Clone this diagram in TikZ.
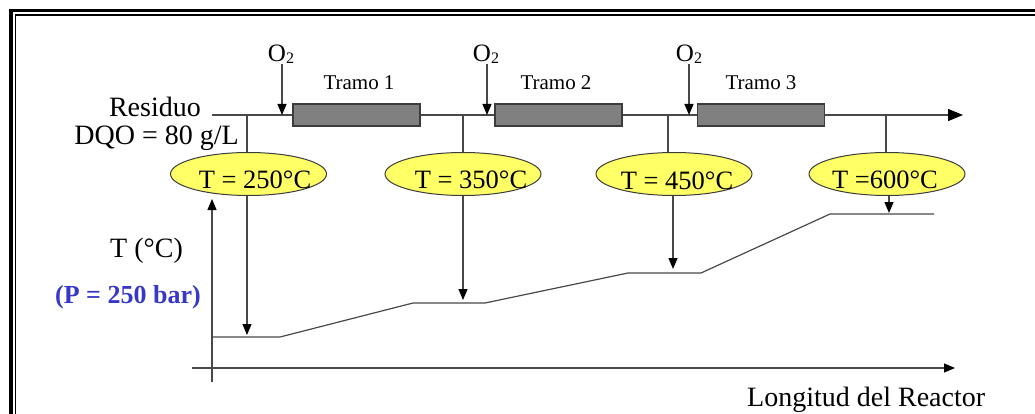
\documentclass[tikz,border=0pt]{standalone}
\usepackage{fontspec}
\setmainfont{Liberation Serif}
\usetikzlibrary{shapes.geometric,arrows.meta}

\definecolor{wirecol}{HTML}{484848}
\definecolor{edgecol}{HTML}{3C3C3C}
\definecolor{bubblefill}{HTML}{FFFF66}
\definecolor{tubefill}{HTML}{808080}
\definecolor{pblue}{HTML}{3838C8}
\newcommand\fs[1]{\fontsize{#1}{#1}\selectfont}

\begin{document}
\begin{tikzpicture}[x=1pt,y=-1pt,
  wire/.style={draw=wirecol, line width=1.2pt},
  feed/.style={wire, -{Triangle[length=11pt,width=9pt,color=black]}},
  flow/.style={wire, -{Triangle[length=15pt,width=12pt,color=black]}},
  tube/.style={rectangle, draw=edgecol, fill=tubefill, line width=1.2pt,
    minimum width=127pt, minimum height=22pt, inner sep=0pt},
  bubble/.style={ellipse, draw=edgecol, fill=bubblefill, line width=1pt,
    minimum width=156pt, minimum height=43pt, inner sep=0pt},
  lbl/.style={font=\fs{28}, inner sep=0pt},
  temp/.style={font=\fs{26.5}, inner sep=0pt, anchor=base},
  tramo/.style={font=\fs{21}, inner sep=0pt, anchor=base},
  oxy/.style={font=\fs{25}, inner sep=0pt, anchor=base},
  frameouter/.style={draw=black, line width=3.4pt},
  frameinner/.style={draw=black, line width=1.6pt}
]
\useasboundingbox (0,0) rectangle (1035,414);
\clip (0,0) rectangle (1035,414);

% double page frame
\draw[frameouter] (10.8,10.8) rectangle (1100,480);
\draw[frameinner] (15.3,15.3) rectangle (1100,480);

% reactor line
\coordinate (in) at (212,115);
\coordinate (out) at (963,115);
\draw[flow] (in) -- (out);

% reactor sections
\node[tube] (b1) at (356.5,115) {};
\node[tube] (b2) at (558.5,115) {};
\node[tube] (b3) at (761,115) {};
\node[tramo] (l1) at (359,90) {Tramo 1};
\node[tramo] (l2) at (556,90) {Tramo 2};
\node[tramo] (l3) at (761,90) {Tramo 3};

% oxygen injections
\node[oxy] (o1) at (281,62) {O\raisebox{-2pt}{\fs{16}2}};
\node[oxy] (o2) at (486,62) {O\raisebox{-2pt}{\fs{16}2}};
\node[oxy] (o3) at (689,62) {O\raisebox{-2pt}{\fs{16}2}};
\coordinate (a1) at (282,115);
\coordinate (a2) at (487,115);
\coordinate (a3) at (689,115);
\draw[feed] (o1.south -| a1) -- (a1);
\draw[feed] (o2.south -| a2) -- (a2);
\draw[feed] (o3.south -| a3) -- (a3);

% feed labels
\node[lbl, anchor=base east] (res) at (201,117) {Residuo};
\node[lbl, anchor=base east] (dqo) at (239,145) {DQO = 80 g/L};

% temperature readings
\node[bubble] (e1) at (248.5,174) {};
\node[bubble] (e2) at (463,174) {};
\node[bubble] (e3) at (674,174) {};
\node[bubble] (e4) at (887,174) {};
\node[temp] (t1) at (255,189) {T = 250°C};
\node[temp] (t2) at (471,189) {T = 350°C};
\node[temp] (t3) at (677,189.5) {T = 450°C};
\node[temp] (t4) at (885,189) {T =600°C};

\coordinate (j1) at (247,115);
\coordinate (j2) at (463,115);
\coordinate (j3) at (668,115);
\coordinate (j4) at (886,115);
\draw[wire] (j1) -- (j1 |- e1.north);
\draw[wire] (j2) -- (j2 |- e2.north);
\draw[wire] (j3) -- (j3 |- e3.north);
\draw[wire] (j4) -- (j4 |- e4.north);

% axes
\coordinate (yo) at (212,382);
\coordinate (ytop) at (212,199);
\coordinate (xo) at (192,368);
\coordinate (xend) at (955,368);
\draw[feed] (yo) -- (ytop);
\draw[feed] (xo) -- (xend);
\node[lbl, anchor=base west] (tc) at (110,257) {T (°C)};
\node[lbl, anchor=base west, font=\fs{26}\bfseries, text=pblue] (pres) at (55,303) {(P = 250 bar)};
\node[lbl, anchor=base west] (len) at (747,406) {Longitud del Reactor};

% temperature profile
\coordinate (p0) at (212,337);
\coordinate (p1) at (280,337);
\coordinate (p2) at (413,303);
\coordinate (p3) at (485,303);
\coordinate (p4) at (628,273);
\coordinate (p5) at (701,273);
\coordinate (p6) at (830,214);
\coordinate (p7) at (934,214);
\draw[wire] (p0) -- (p1) -- (p2) -- (p3) -- (p4) -- (p5) -- (p6) -- (p7);

% readings mapped onto the profile
\coordinate (q1) at (247,335);
\coordinate (q2) at (463,300);
\coordinate (q3) at (673,269);
\coordinate (q4) at (889,213);
\draw[feed] (e1.south -| q1) -- (q1);
\draw[feed] (e2.south -| q2) -- (q2);
\draw[feed] (e3.south -| q3) -- (q3);
\draw[feed] (e4.south -| q4) -- (q4);
\end{tikzpicture}
\end{document}
